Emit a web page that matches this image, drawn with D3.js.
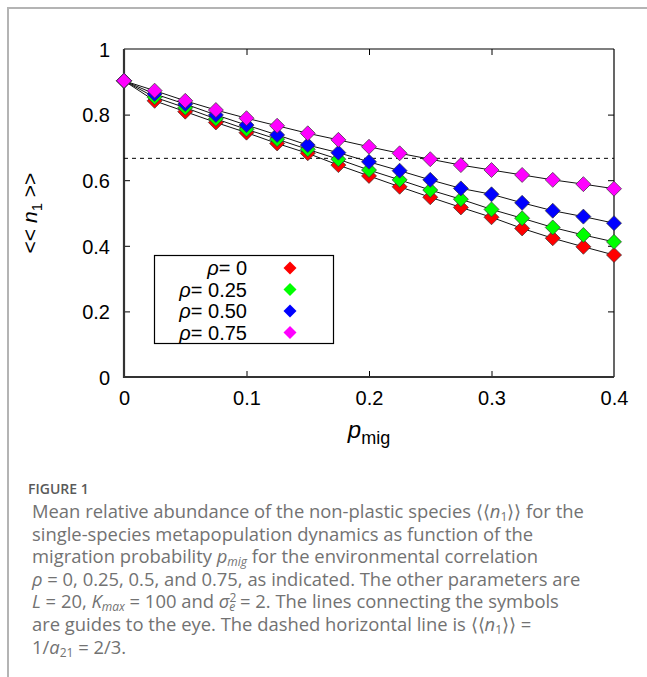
<!DOCTYPE html>
<html>
<head>
<meta charset="utf-8">
<script src="https://cdn.jsdelivr.net/npm/d3@7"></script>
<style>
  html, body { margin: 0; padding: 0; background: #fff; }
  svg { display: block; }
</style>
</head>
<body>
<script>
// ---- data ----
const pmig = [0, 0.025, 0.05, 0.075, 0.1, 0.125, 0.15, 0.175, 0.2, 0.225, 0.25, 0.275, 0.3, 0.325, 0.35, 0.375, 0.4];
const rho0   = [0.903, 0.842, 0.809, 0.776, 0.745, 0.712, 0.682, 0.646, 0.613, 0.580, 0.548, 0.517, 0.487, 0.453, 0.423, 0.397, 0.372];
const rho025 = [0.903, 0.853, 0.821, 0.787, 0.755, 0.725, 0.694, 0.664, 0.631, 0.601, 0.570, 0.542, 0.511, 0.484, 0.456, 0.433, 0.412];
const rho050 = [0.903, 0.863, 0.832, 0.799, 0.768, 0.738, 0.707, 0.684, 0.656, 0.629, 0.601, 0.575, 0.557, 0.531, 0.507, 0.489, 0.469];
const rho075 = [0.903, 0.873, 0.842, 0.814, 0.789, 0.766, 0.743, 0.723, 0.702, 0.682, 0.664, 0.646, 0.631, 0.616, 0.601, 0.588, 0.574];
const seriesLabels = ["0", "0.25", "0.50", "0.75"];
const seriesValues = [rho0, rho025, rho050, rho075];
const seriesColors = ["#ff0000", "#00ff00", "#0000ff", "#ff00ff"];
const xTicks = [0, 0.1, 0.2, 0.3, 0.4];
const xTickLabels = ["0", "0.1", "0.2", "0.3", "0.4"];
const yTicks = [0, 0.2, 0.4, 0.6, 0.8, 1];
const yTickLabels = ["0", "0.2", "0.4", "0.6", "0.8", "1"];
const dashedLevel = 2 / 3;

// ---- layout ----
const W = 647, H = 677;
const svg = d3.select("body").append("svg").attr("width", W).attr("height", H);
const plot = { left: 124, right: 614, top: 49, bottom: 377 };
const x = d3.scaleLinear().domain([0, 0.4]).range([plot.left, plot.right]);
const y = d3.scaleLinear().domain([0, 1]).range([plot.bottom, plot.top]);

// figure border (top & left)
svg.append("line").attr("x1", 8).attr("x2", W).attr("y1", 8).attr("y2", 8)
  .attr("stroke", "#b4b4b4").attr("stroke-width", 2);
svg.append("line").attr("x1", 8).attr("x2", 8).attr("y1", 7).attr("y2", H)
  .attr("stroke", "#b4b4b4").attr("stroke-width", 2);

// axes via d3 axis generators (inward ticks, mirrored)
const tickFont = "'Liberation Sans', Arial, Helvetica, sans-serif";
const gx = svg.append("g").attr("transform", `translate(0,${plot.bottom})`)
  .call(d3.axisBottom(x).tickValues(xTicks).tickFormat((d, i) => xTickLabels[i]).tickSizeInner(-6).tickSizeOuter(0).tickPadding(22));
const gy = svg.append("g").attr("transform", `translate(${plot.left},0)`)
  .call(d3.axisLeft(y).tickValues(yTicks).tickFormat((d, i) => yTickLabels[i]).tickSizeInner(-6).tickSizeOuter(0).tickPadding(14));
const gxt = svg.append("g").attr("transform", `translate(0,${plot.top})`)
  .call(d3.axisTop(x).tickValues(xTicks).tickFormat("").tickSizeInner(-6).tickSizeOuter(0));
const gyr = svg.append("g").attr("transform", `translate(${plot.right},0)`)
  .call(d3.axisRight(y).tickValues(yTicks).tickFormat("").tickSizeInner(-6).tickSizeOuter(0));
[gx, gy, gxt, gyr].forEach(g => {
  g.select(".domain").remove();
  g.selectAll(".tick line").attr("stroke", "#000").attr("stroke-width", 1);
  g.selectAll("text").attr("font-family", tickFont).attr("font-size", 20).attr("fill", "#000");
});
gx.selectAll("text").attr("dy", "0.3em");
gy.selectAll("text").attr("dy", "0.36em");
gx.selectAll(".tick line").filter(d => d === 0 || d === 0.4).remove();
gxt.selectAll(".tick line").filter(d => d === 0 || d === 0.4).remove();
gy.selectAll(".tick line").filter(d => d === 0 || d === 1).remove();
gyr.selectAll(".tick line").filter(d => d === 0 || d === 1).remove();

// frame
svg.append("line").attr("x1", plot.left).attr("x2", plot.right).attr("y1", plot.top).attr("y2", plot.top).attr("stroke", "#000").attr("stroke-width", 1.2);
svg.append("line").attr("x1", plot.right).attr("x2", plot.right).attr("y1", plot.top).attr("y2", plot.bottom).attr("stroke", "#000").attr("stroke-width", 1.2);
svg.append("line").attr("x1", plot.left).attr("x2", plot.left).attr("y1", plot.top).attr("y2", plot.bottom + 1).attr("stroke", "#333").attr("stroke-width", 2.2);
svg.append("line").attr("x1", plot.left - 1).attr("x2", plot.right).attr("y1", plot.bottom).attr("y2", plot.bottom).attr("stroke", "#333").attr("stroke-width", 2.2);

// dashed line
svg.append("line").attr("x1", x(0)).attr("x2", x(0.4)).attr("y1", y(dashedLevel)).attr("y2", y(dashedLevel))
  .attr("stroke", "#000").attr("stroke-width", 1).attr("stroke-dasharray", "4,4");

// series lines then markers
const lineGen = d3.line().x((d, i) => x(pmig[i])).y(d => y(d));
function diamondPath(r) { return `M0,${-r}L${r},0L0,${r}L${-r},0Z`; }

seriesValues.forEach(vals => {
  svg.append("path").datum(vals).attr("d", lineGen).attr("fill", "none").attr("stroke", "#111").attr("stroke-width", 1);
});
seriesValues.forEach((vals, si) => {
  svg.append("g").selectAll("path").data(vals).join("path")
    .attr("transform", (d, i) => `translate(${x(pmig[i])},${y(d)})`)
    .attr("d", diamondPath(7.5))
    .attr("fill", seriesColors[si])
    .attr("stroke", "#333").attr("stroke-width", 0.7);
});

// legend
const legend = svg.append("g");
legend.append("rect").attr("x", 154.5).attr("y", 255.5).attr("width", 179).attr("height", 88)
  .attr("fill", "#fff").attr("stroke", "#000").attr("stroke-width", 1.2);
const rowY = [268, 289.5, 311, 332.5];
seriesLabels.forEach((lab, i) => {
  const t = legend.append("text").attr("x", 247).attr("y", rowY[i] + 7).attr("text-anchor", "end")
    .attr("font-family", tickFont).attr("font-size", 20).attr("fill", "#000");
  t.append("tspan").attr("font-style", "italic").text("ρ");
  t.append("tspan").text("= " + lab);
  legend.append("path").attr("transform", `translate(290,${rowY[i]})`).attr("d", diamondPath(6.5))
    .attr("fill", seriesColors[i]);
});

// y axis label << n1 >>
const yl = svg.append("text").attr("transform", "translate(37,213) rotate(-90)")
  .attr("text-anchor", "middle").attr("font-family", tickFont).attr("font-size", 21).attr("fill", "#000");
yl.append("tspan").text("<< ");
yl.append("tspan").attr("font-style", "italic").text("n");
yl.append("tspan").attr("font-size", 15).attr("dy", 5).text("1");
yl.append("tspan").attr("dy", -5).text(" >>");

// x axis label p_mig
const xl = svg.append("text").attr("x", 369).attr("y", 438).attr("text-anchor", "middle")
  .attr("font-family", tickFont).attr("font-size", 24).attr("fill", "#000");
xl.append("tspan").attr("font-style", "italic").text("p");
xl.append("tspan").attr("font-size", 18).attr("dy", 6).text("mig");

// caption
const capFont = "'Open Sans', Lato, sans-serif";
svg.append("text").attr("x", 28).attr("y", 494).attr("font-family", capFont).attr("font-size", 14)
  .attr("font-weight", 600).attr("fill", "#5a5a5a").text("FIGURE 1");

const I = s => ({ t: s, i: true });
const N = s => ({ t: s });
const SUB = s => ({ t: s, sub: true });
const SUBI = s => ({ t: s, sub: true, i: true });
const capLines = [
  [N("Mean relative abundance of the non-plastic species ⟨⟨"), I("n"), SUB("1"), N("⟩⟩ for the")],
  [N("single-species metapopulation dynamics as function of the")],
  [N("migration probability "), I("p"), SUBI("mig"), N(" for the environmental correlation")],
  [I("ρ"), N(" = 0, 0.25, 0.5, and 0.75, as indicated. The other parameters are")],
  [I("L"), N(" = 20, "), I("K"), SUBI("max"), N(" = 100 and "), I("σ"), { t: "2", sup: true }, { t: "e", sub: true, i: true, back: true }, N(" = 2. The lines connecting the symbols")],
  [N("are guides to the eye. The dashed horizontal line is ⟨⟨"), I("n"), SUB("1"), N("⟩⟩ =")],
  [N("1/"), I("a"), SUB("21"), N(" = 2/3.")]
];
const capY0 = 518, capDY = 22.6;
capLines.forEach((segs, li) => {
  const t = svg.append("text").attr("x", 32).attr("y", capY0 + li * capDY)
    .attr("font-family", capFont).attr("font-size", 18.4).attr("fill", "#727272");
  let shift = 0;
  segs.forEach(s => {
    const ts = t.append("tspan").text(s.t);
    if (s.i) ts.attr("font-style", "italic");
    let target = 0;
    if (s.sub) { target = 3; ts.attr("font-size", 12); }
    if (s.sup) { target = -6; ts.attr("font-size", 12); }
    if (s.back) ts.attr("dx", -7);
    if (target !== shift) { ts.attr("dy", target - shift); shift = target; }
  });
});
</script>
</body>
</html>
